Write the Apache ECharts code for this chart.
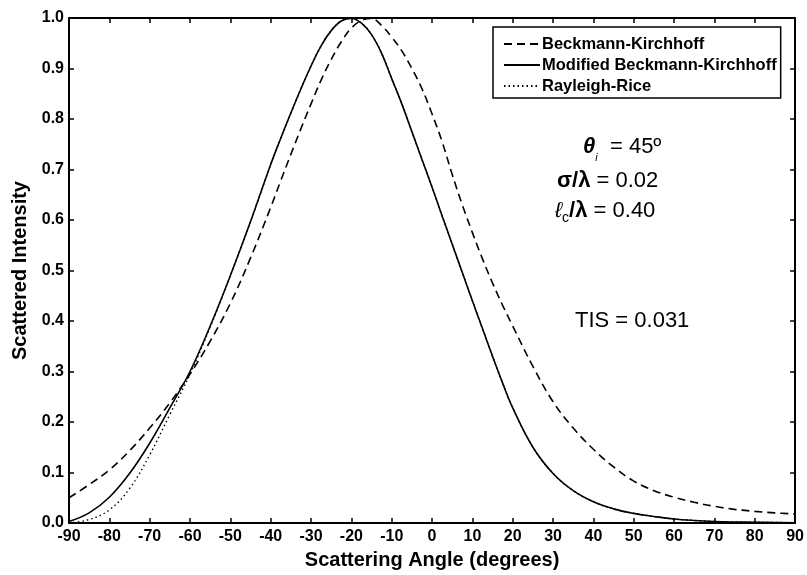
<!DOCTYPE html>
<html>
<head>
<meta charset="utf-8">
<script src="https://cdn.jsdelivr.net/npm/echarts@6/dist/echarts.min.js"></script>
<style>html,body{margin:0;padding:0;background:#fff}#c{width:807px;height:575px}</style>
</head>
<body>
<div id="c"></div>
<script>
// Scattering angle samples (degrees)
const angles = [-90,-85,-80,-75,-70,-65,-60,-55,-50,-45,-40,-37.5,-35,-32.5,-30,-27.5,-25,-22.5,-20,-17.5,-15,-12.5,-10,-7.5,-5,-2.5,0,2.5,5,7.5,10,12.5,15,17.5,20,25,30,35,40,45,50,55,60,65,70,75,80,85,90];
// Beckmann-Kirchhoff (dashed)
const bk = [0.05,0.076,0.105,0.143,0.188,0.238,0.295,0.36,0.435,0.525,0.625,0.678,0.73,0.781,0.83,0.877,0.918,0.953,0.98,0.995,0.999,0.985,0.962,0.935,0.9,0.86,0.81,0.755,0.69,0.63,0.575,0.523,0.475,0.431,0.39,0.31,0.24,0.188,0.146,0.111,0.083,0.064,0.051,0.041,0.033,0.027,0.023,0.02,0.018];
// Modified Beckmann-Kirchhoff (solid)
const mbk = [0.003,0.02,0.051,0.098,0.158,0.228,0.30,0.39,0.49,0.597,0.71,0.762,0.812,0.86,0.905,0.945,0.975,0.994,0.999,0.99,0.967,0.93,0.88,0.83,0.775,0.72,0.665,0.608,0.552,0.496,0.44,0.385,0.33,0.277,0.228,0.15,0.098,0.064,0.042,0.028,0.019,0.013,0.008,0.005,0.003,0.002,0.0015,0.001,0.0005];
// Rayleigh-Rice (dotted)
const rr = [0,0.007,0.026,0.068,0.135,0.215,0.295,0.388,0.49,0.597,0.71,0.762,0.812,0.86,0.905,0.945,0.975,0.994,0.999,0.99,0.967,0.93,0.88,0.83,0.775,0.72,0.665,0.608,0.552,0.496,0.44,0.385,0.33,0.277,0.228,0.15,0.098,0.064,0.042,0.028,0.019,0.013,0.008,0.005,0.003,0.002,0.0015,0.001,0.0005];
const seriesNames = ['Beckmann-Kirchhoff','Modified Beckmann-Kirchhoff','Rayleigh-Rice'];
const xTitle = 'Scattering Angle (degrees)';
const yTitle = 'Scattered Intensity';

const FONT = '"Liberation Sans", Arial, Helvetica, sans-serif';
const pair = v => angles.map((a, i) => [a, v[i]]);

const chart = echarts.init(document.getElementById('c'), null, {renderer: 'canvas'});
const axisCommon = {
  min: -90, max: 90, interval: 10,
  axisLine: {show: true, onZero: false, lineStyle: {color: '#000', width: 2}},
  axisTick: {show: true, inside: true, length: 5, lineStyle: {color: '#000', width: 1.5}},
  splitLine: {show: false}
};
chart.setOption({
  animation: false,
  backgroundColor: '#fff',
  grid: {left: 69, right: 6, top: 18, bottom: 52, containLabel: false},
  xAxis: [
    Object.assign({type: 'value', position: 'bottom',
      name: xTitle, nameLocation: 'middle', nameGap: 27,
      nameTextStyle: {fontFamily: FONT, fontWeight: 'bold', fontSize: 20, color: '#000'},
      axisLabel: {show: true, margin: 6, color: '#000', fontFamily: FONT, fontWeight: 'bold', fontSize: 16,
        showMinLabel: true, showMaxLabel: true}}, axisCommon),
    Object.assign({type: 'value', position: 'top', axisLabel: {show: false}}, axisCommon)
  ],
  yAxis: [
    Object.assign({}, axisCommon, {type: 'value', min: 0, max: 1, interval: 0.1, position: 'left',
      name: yTitle, nameLocation: 'middle', nameGap: 31,
      nameTextStyle: {fontFamily: FONT, fontWeight: 'bold', fontSize: 20, color: '#000'},
      axisLabel: {show: true, margin: 5, color: '#000', fontFamily: FONT, fontWeight: 'bold', fontSize: 16,
        formatter: v => v.toFixed(1)}}),
    Object.assign({}, axisCommon, {type: 'value', min: 0, max: 1, interval: 0.1, position: 'right',
      axisLabel: {show: false}})
  ],
  legend: {
    orient: 'vertical', left: 493, top: 27,
    padding: [8, 4, 3, 10], itemGap: 3, itemWidth: 36, itemHeight: 12,
    borderColor: '#000', borderWidth: 1.5, backgroundColor: '#fff',
    itemStyle: {color: 'rgba(0,0,0,0)', borderWidth: 0, opacity: 0},
    textStyle: {fontFamily: FONT, fontWeight: 'bold', fontSize: 16.5, lineHeight: 18, color: '#000', padding: [0,0,0,-3]},
    data: seriesNames
  },
  series: [
    {name: seriesNames[0], type: 'line', data: pair(bk), smooth: 0.4, symbol: 'none', showSymbol: false,
      lineStyle: {color: '#000', width: 1.6, type: [8, 5]}, itemStyle: {color: '#000'}},
    {name: seriesNames[1], type: 'line', data: pair(mbk), smooth: 0.4, symbol: 'none', showSymbol: false,
      lineStyle: {color: '#000', width: 1.6, type: 'solid'}, itemStyle: {color: '#000'}},
    {name: seriesNames[2], type: 'line', data: pair(rr), smooth: 0.4, symbol: 'none', showSymbol: false,
      lineStyle: {color: '#000', width: 1.4, type: [1.5, 3]}, itemStyle: {color: '#000'}}
  ],
  graphic: [
    {type: 'text', left: 583, top: 136, z: 100, style: {
      text: '{t|θ}{s|i}{n|  = 45º}', fill: '#000', fontFamily: FONT,
      rich: {
        t: {fontSize: 22, fontWeight: 'bold', fontStyle: 'italic', fontFamily: FONT, verticalAlign: 'bottom'},
        s: {fontSize: 11, fontStyle: 'italic', fontFamily: FONT, verticalAlign: 'bottom', padding: [0,0,-5,0]},
        n: {fontSize: 22, fontFamily: FONT, verticalAlign: 'bottom'}
      }}},
    {type: 'text', left: 557, top: 170, z: 100, style: {
      text: '{b|σ/λ}{n| = 0.02}', fill: '#000', fontFamily: FONT,
      rich: {
        b: {fontSize: 22, fontWeight: 'bold', fontFamily: FONT, verticalAlign: 'bottom'},
        n: {fontSize: 22, fontFamily: FONT, verticalAlign: 'bottom'}
      }}},
    {type: 'text', left: 555, top: 200, z: 100, style: {
      text: '{l|ℓ}{c|c}{b|/λ}{n| = 0.40}', fill: '#000', fontFamily: FONT,
      rich: {
        l: {fontSize: 22, fontStyle: 'italic', fontFamily: FONT, verticalAlign: 'bottom'},
        c: {fontSize: 14, fontFamily: FONT, verticalAlign: 'bottom', padding: [0,0,-3,0]},
        b: {fontSize: 22, fontWeight: 'bold', fontFamily: FONT, verticalAlign: 'bottom'},
        n: {fontSize: 22, fontFamily: FONT, verticalAlign: 'bottom'}
      }}},
    {type: 'text', left: 575, top: 310, z: 100, style: {
      text: 'TIS = 0.031', fill: '#000', fontFamily: FONT, fontSize: 22}}
  ]
});
</script>
</body>
</html>
